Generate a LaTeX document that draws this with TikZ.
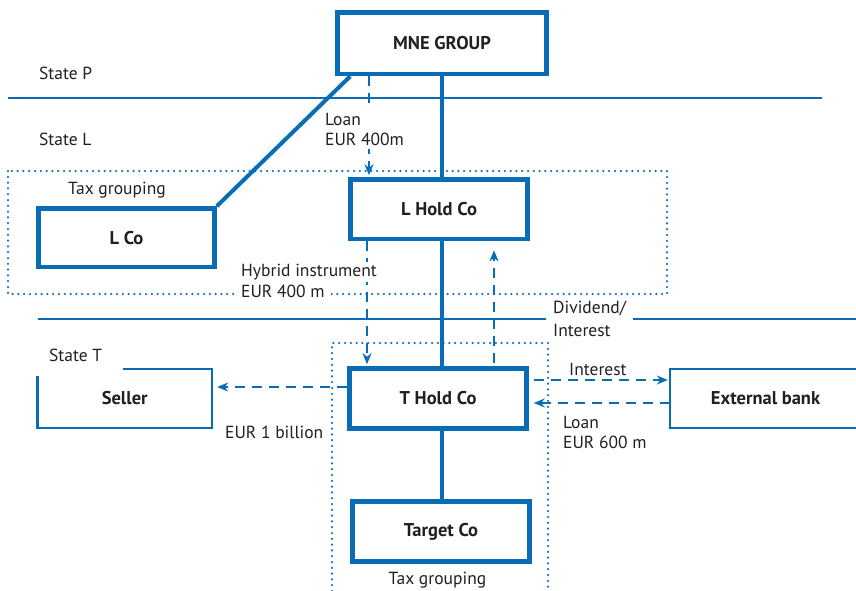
\documentclass[tikz,border=0pt]{standalone}
\usepackage{fontspec}
\setmainfont{PT Sans}
\usetikzlibrary{arrows.meta,calc}
\definecolor{mblue}{RGB}{8,108,182}
\definecolor{dblue}{RGB}{20,112,192}
\definecolor{txt}{RGB}{35,31,32}
\begin{document}
\begin{tikzpicture}[x=1pt,y=-1pt,
  lbl/.style={text=txt, inner sep=0pt, font=\fontsize{17.5}{20.5}\selectfont},
  bigbox/.style={draw=mblue, line width=4.6pt, minimum width=177pt, minimum height=60pt, inner sep=0pt, text=txt, font=\fontsize{18.5}{21}\selectfont\bfseries},
  thinbox/.style={minimum height=59pt, inner sep=0pt, text=txt, font=\fontsize{18.5}{21}\selectfont\bfseries},
  thinline/.style={draw=mblue, line width=2.4pt},
  stateline/.style={draw=mblue, line width=2pt},
  trunk/.style={draw=mblue, line width=4pt},
  dotline/.style={draw=dblue, line width=2.5pt, line cap=round, dash pattern=on 0pt off 5.8pt},
  dasharrow/.style={draw=mblue, line width=1.4pt, dash pattern=on 10pt off 7pt, -{Stealth[length=11pt,width=9pt,inset=3.5pt]}},
]
\path[use as bounding box] (0,0) rectangle (856,591);

% state borders
\coordinate (p1) at (8,98);
\coordinate (p2) at (822,98);
\coordinate (t1) at (38,319);
\coordinate (t2) at (856,319);
\draw[stateline] (p1) -- (p2);
\draw[stateline] (t1) -- (t2);

% tax groupings
\draw[dotline] (8,171) rectangle (667,294);
\draw[dotline] (332,591) -- (332,343) -- (548,343) -- (548,591);

% entities
\node[bigbox, minimum width=209pt, minimum height=61.5pt] (mne) at (442,43.25) {MNE GROUP};
\node[bigbox, minimum height=59.5pt] (lhold) at (439,209.25) {L Hold Co};
\node[bigbox] (thold) at (438,398.5) {T Hold Co};
\node[bigbox] (target) at (441,531.5) {Target Co};
\node[bigbox, minimum width=176pt, minimum height=58.5pt] (lco) at (126.5,237.75) {L Co};
\node[thinbox, minimum width=174.5pt] (seller) at (124.75,398.5) {Seller};
\node[thinbox, minimum width=191pt] (ext) at (765.5,398.5) {External bank};

\coordinate (pr) at (856,0);
\draw[thinline] ([yshift=-7pt]seller.north west) -- (seller.south west) -- (seller.south east) -- (seller.north east) -- ([xshift=85.5pt]seller.north west);
\draw[thinline] (ext.north -| pr) -- (ext.north west) -- (ext.south west) -- (ext.south -| pr);

% ownership
\draw[trunk] (mne.south) -- (lhold.north -| mne.south);
\draw[trunk] (lhold.south -| mne.south) -- (thold.north -| mne.south);
\draw[trunk] (thold.south -| mne.south) -- (target.north -| mne.south);
\draw[trunk] ([xshift=15pt]mne.south west) -- (lco.north east);

% flows
\coordinate (lx) at (369,0);
\coordinate (hx) at (367,0);
\coordinate (dx) at (494,0);
\coordinate (sy) at (0,387);
\coordinate (iy) at (0,380);
\coordinate (ly) at (0,403);
\draw[dasharrow, shorten >=2pt] (mne.south -| lx) -- (lhold.north -| lx);
\draw[dasharrow, shorten >=2pt] (lhold.south -| hx) -- (thold.north -| hx);
\draw[dasharrow, shorten <=3pt, shorten >=9pt] (thold.north -| dx) -- (lhold.south -| dx);
\draw[dasharrow, shorten >=5pt] (thold.west |- sy) -- (seller.east |- sy);
\draw[dasharrow, shorten <=5pt, shorten >=2pt] (thold.east |- iy) -- (ext.west |- iy);
\draw[dasharrow, shorten >=5pt] (ext.west |- ly) -- (thold.east |- ly);

% labels
\node[lbl, anchor=base west] (stP) at (39,80) {State P};
\node[lbl, anchor=base west] (stL) at (39,146) {State L};
\node[lbl, anchor=base west] (stT) at (49,361) {State T};
\node[lbl, anchor=north west, align=left, fill=white, inner sep=3pt] (loanA) at (322,110) {Loan\\EUR 400m};
\node[lbl, anchor=base west] (tgL) at (68,194) {Tax grouping};
\node[lbl, anchor=base west, fill=white, inner xsep=2pt, inner ysep=2pt] (hyb1) at (239,276.5) {Hybrid instrument};
\node[lbl, anchor=base west, fill=white, inner xsep=6pt, inner ysep=3pt] (hyb2) at (235,297.5) {EUR 400 m};
\node[lbl, anchor=north west, align=left, fill=white, inner xsep=7pt, inner ysep=3pt, font=\fontsize{17.5}{23}\selectfont] (div) at (546,298) {Dividend/\\Interest};
\node[lbl, anchor=base west] (intr) at (569,375) {Interest};
\node[lbl, anchor=base west] (loanB1) at (563,428) {Loan};
\node[lbl, anchor=base west] (loanB2) at (563,448) {EUR 600 m};
\node[lbl, anchor=base west] (bill) at (225,438) {EUR 1 billion};
\node[lbl, anchor=base] (tgT) at (437.5,584) {Tax grouping};
\end{tikzpicture}
\end{document}
